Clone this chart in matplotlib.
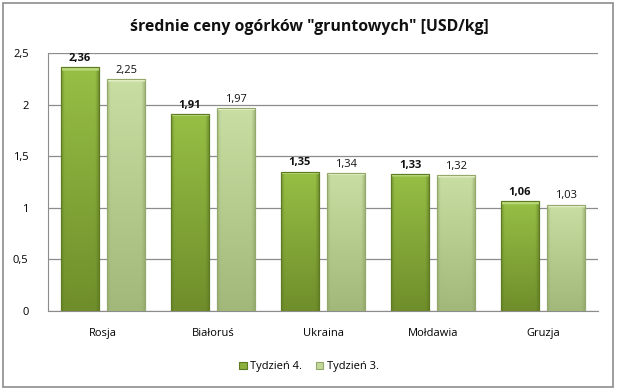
import matplotlib
matplotlib.use("Agg")
import matplotlib.pyplot as plt
import numpy as np
from matplotlib.patches import Rectangle

categories = ["Rosja", "Białoruś", "Ukraina", "Mołdawia", "Gruzja"]
week4 = [2.36, 1.91, 1.35, 1.33, 1.06]
week3 = [2.25, 1.97, 1.34, 1.32, 1.03]
series_names = ["Tydzień 4.", "Tydzień 3."]
yticks = [0, 0.5, 1, 1.5, 2, 2.5]
ytick_labels = ["0", "0,5", "1", "1,5", "2", "2,5"]

plt.rcParams['font.family'] = ['Open Sans', 'DejaVu Sans']

fig = plt.figure(figsize=(6.18, 3.92), dpi=100)
fig.patch.set_facecolor("white")
fig.add_artist(Rectangle((0.005, 0.0128), 0.987, 0.979, transform=fig.transFigure,
                         fill=False, edgecolor="#8c8c8c", linewidth=1.2))

ax = fig.add_axes([0.0777, 0.207, 0.89, 0.658])
x = np.arange(len(categories))
w = 0.34
off = 0.21

dark_edge = "#5e7a22"
light_edge = "#93a86a"

b1 = ax.bar(x - off, week4, w, color="#8cb03c", edgecolor=dark_edge, linewidth=0.8, zorder=3, label=series_names[0])
b2 = ax.bar(x + off, week3, w, color="#c2d79a", edgecolor=light_edge, linewidth=0.8, zorder=3, label=series_names[1])

def shade(bars, c_top, c_bot, c_side, c_bevel):
    c_top = np.array(matplotlib.colors.to_rgb(c_top))
    c_bot = np.array(matplotlib.colors.to_rgb(c_bot))
    c_side = np.array(matplotlib.colors.to_rgb(c_side))
    c_bevel = np.array(matplotlib.colors.to_rgb(c_bevel))
    tx = np.linspace(-1, 1, 64)
    hprof = np.clip((np.abs(tx) - 0.82) / 0.18, 0, 1) * 0.6
    for b in bars:
        x0, y0 = b.get_x(), b.get_y()
        bw, bh = b.get_width(), b.get_height()
        ny = 200
        ty = np.linspace(0, 1, ny)[:, None]
        base = c_top[None, None, :] * (1 - ty[..., None]) + c_bot[None, None, :] * ty[..., None]
        base = np.repeat(base, len(tx), axis=1)
        img = base * (1 - hprof[None, :, None]) + c_side[None, None, :] * hprof[None, :, None]
        bevel_px = max(2, int(round(ny * 0.03 / bh)))
        img[:bevel_px, :, :] = c_bevel[None, None, :]
        im = ax.imshow(img, extent=[x0, x0 + bw, y0, y0 + bh], aspect="auto", zorder=3.5,
                       interpolation="bilinear")
        im.set_clip_path(b)
        ax.add_patch(Rectangle((x0, y0), bw, bh, fill=False, edgecolor=b.get_edgecolor(),
                               linewidth=0.8, zorder=4))

shade(b1, "#97bf45", "#6f8e2b", "#5f7a22", "#b9d97a")
shade(b2, "#c9dea2", "#a2b87a", "#8fa566", "#e6f2c8")

for xi, v in zip(x - off, week4):
    ax.text(xi, v + 0.03, f"{v:.2f}".replace(".", ","), ha="center", va="bottom",
            fontsize=8, fontweight="bold", color="#111111")
for xi, v in zip(x + off, week3):
    ax.text(xi, v + 0.03, f"{v:.2f}".replace(".", ","), ha="center", va="bottom",
            fontsize=8, color="#111111")

ax.set_xlim(-0.5, 4.5)
ax.set_ylim(0, 2.5)
ax.set_yticks(yticks)
ax.set_yticklabels(ytick_labels, fontsize=8)
ax.set_xticks(x)
ax.set_xticklabels(categories, fontsize=8)
ax.tick_params(axis="y", length=0, pad=14)
ax.tick_params(axis="x", length=0, pad=12)
ax.grid(axis="y", color="#8c8c8c", linewidth=0.9, zorder=0)
for s in ["top", "right"]:
    ax.spines[s].set_visible(False)
ax.spines["left"].set_color("#8c8c8c")
ax.spines["bottom"].set_color("#8c8c8c")

fig.text(0.5, 0.931, 'średnie ceny ogórków "gruntowych" [USD/kg]', ha="center", va="center",
         fontsize=11.4, fontweight="bold", color="#111111")

fig.legend(handles=[b1, b2], labels=series_names, loc="center", bbox_to_anchor=(0.5, 0.064),
           ncol=2, frameon=False, fontsize=8, handlelength=0.7, handleheight=0.7,
           handletextpad=0.3, columnspacing=1.2)

fig.savefig("out.png", dpi=100, facecolor="white")
